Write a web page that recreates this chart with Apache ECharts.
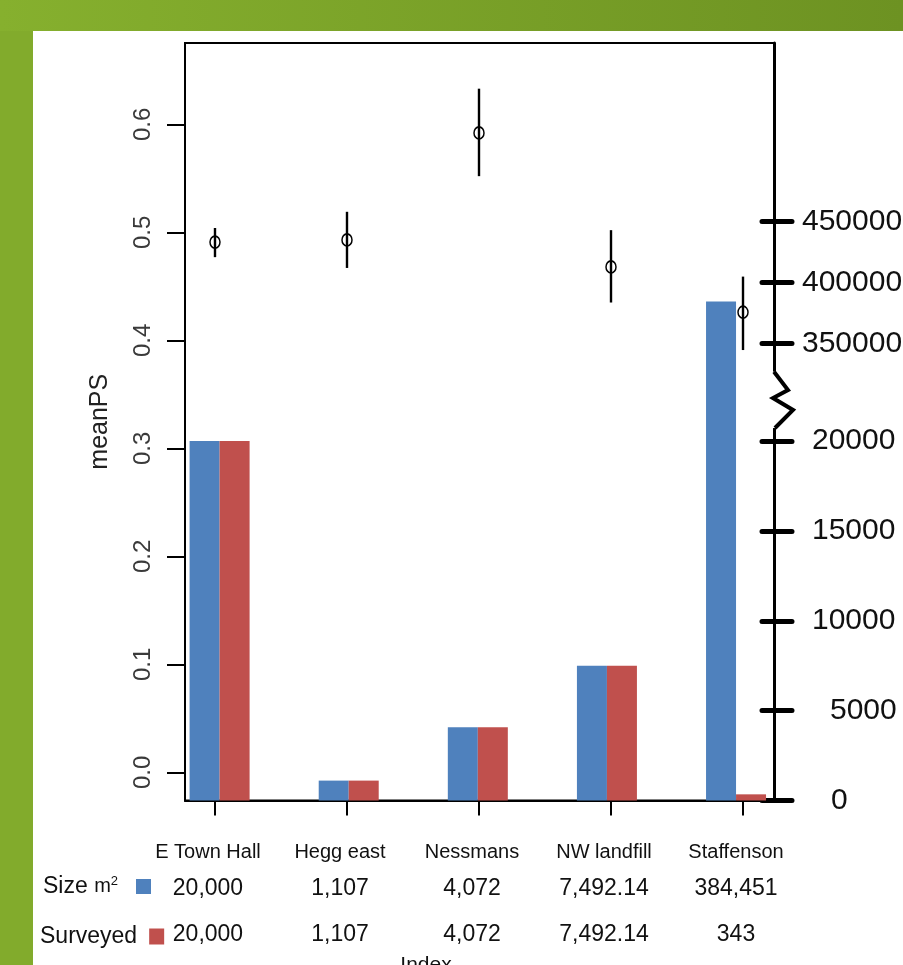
<!DOCTYPE html>
<html>
<head>
<meta charset="utf-8">
<script src="https://cdn.jsdelivr.net/npm/echarts@6/dist/echarts.min.js"></script>
<style>
  html, body { margin: 0; padding: 0; }
  body { width: 903px; height: 965px; position: relative; overflow: hidden; background: #82ab2c; }
  #band { position: absolute; left: 0; top: 0; width: 903px; height: 31px; background: linear-gradient(to right, #86b02e, #6d9222); }
  #panel { position: absolute; left: 33px; top: 31px; width: 870px; height: 934px; background: #ffffff; }
  #chart { position: absolute; left: 0; top: 0; width: 903px; height: 965px; }
</style>
</head>
<body>
<div id="band"></div>
<div id="panel"></div>
<div id="chart"></div>
<script>
// Sites and their measurements
const sites = ['E Town Hall', 'Hegg east', 'Nessmans', 'NW landfill', 'Staffenson'];
const sizeM2 = [20000, 1107, 4072, 7492.14, 384451];
const surveyed = [20000, 1107, 4072, 7492.14, 343];

// Mean PS per site with the ends of its interval
const meanPS = [0.491, 0.493, 0.592, 0.468, 0.426];
const psLow = [0.477, 0.467, 0.552, 0.435, 0.391];
const psHigh = [0.504, 0.519, 0.633, 0.502, 0.459];

// Tick values
const psTicks = [0, 0.1, 0.2, 0.3, 0.4, 0.5, 0.6];
const areaTicks = [0, 5000, 10000, 15000, 20000, 350000, 400000, 450000];

// Area axis is broken: linear up to 20000, then a compressed segment from 350000 on
const BREAK_LO = 20000, BREAK_HI = 350000;
const UPPER_REF = 400000, UPPER_REF_POS = 28818, UPPER_SLOPE = 0.06787;
function toAreaAxis(v) {
  return v <= BREAK_LO ? v : UPPER_REF_POS + (v - UPPER_REF) * UPPER_SLOPE;
}
const areaTickPos = areaTicks.map(toAreaAxis);
function areaLabel(pos) {
  for (let i = 0; i < areaTicks.length; i++) {
    if (Math.abs(areaTickPos[i] - pos) < 1e-6) return areaTicks[i];
  }
  return null;
}
// label style by number of digits (short labels sit further right)
const digitStyle = { 1: 'd1', 4: 'd4', 5: 'd5', 6: 'd6' };

const siteIdx = sites.map((s, i) => i);
// site axis for the points and ticks, and a slightly different one the bar panel was laid out on
const X_MIN = -0.2272, X_MAX = 4.2348;
const BAR_X_MIN = -0.268, BAR_X_MAX = 4.294;
const AREA_MAX = 42142;
const fmt = v => v.toLocaleString('en-US', { maximumFractionDigits: 2 });

const chart = echarts.init(document.getElementById('chart'), null, { renderer: 'canvas' });

const option = {
  animation: false,
  backgroundColor: 'transparent',
  textStyle: { fontFamily: 'Liberation Sans, Arial, sans-serif' },
  grid: {
    left: 185, right: 129, top: 43, bottom: 164.5,
    outerBoundsMode: 'none', containLabel: false,
    show: true, borderColor: '#000', borderWidth: 2, backgroundColor: 'transparent'
  },
  legend: [
    {
      data: ['Size m²'], left: 43, top: 875, padding: 0, align: 'right', icon: 'rect',
      itemWidth: 15, itemHeight: 15, selectedMode: false,
      formatter: () => '{a|Size }{m|m}{s|2}',
      textStyle: {
        color: '#111', fontSize: 23,
        rich: {
          a: { fontSize: 23, color: '#111' },
          m: { fontSize: 20, color: '#111' },
          s: { fontSize: 13, color: '#111', verticalAlign: 'top', padding: [0, 13, 0, 0] }
        }
      }
    },
    {
      data: ['Surveyed'], left: 40, top: 925, padding: 0, align: 'right', icon: 'rect',
      itemWidth: 15, itemHeight: 16, selectedMode: false,
      textStyle: { color: '#111', fontSize: 23, padding: [0, 7, 0, 0] }
    }
  ],
  xAxis: [
    {
      type: 'value', min: X_MIN, max: X_MAX,
      name: 'Index', nameLocation: 'middle', nameGap: 154,
      nameTextStyle: { fontSize: 21, color: '#111', padding: [0, 107, 0, 0] },
      axisLine: { show: true, onZero: false, lineStyle: { color: '#000', width: 2 } },
      axisTick: { show: true, length: 15, lineStyle: { color: '#000', width: 2 }, customValues: siteIdx },
      axisLabel: {
        customValues: siteIdx, margin: 37, padding: [0, 14, 0, 0],
        formatter: v => {
          const i = Math.round(v);
          return '{c|' + sites[i] + '}\n{v|' + fmt(sizeM2[i]) + '}\n{w|' + fmt(surveyed[i]) + '}';
        },
        rich: {
          c: { fontSize: 20, lineHeight: 30, color: '#111' },
          v: { fontSize: 23, lineHeight: 42, color: '#111' },
          w: { fontSize: 23, lineHeight: 50, color: '#111' }
        }
      },
      splitLine: { show: false }
    },
    {
      type: 'value', min: BAR_X_MIN, max: BAR_X_MAX, show: false,
      axisLine: { onZero: false }, splitLine: { show: false }
    }
  ],
  yAxis: [
    {
      type: 'value', position: 'left', min: -0.0261, max: 0.6753,
      name: 'meanPS', nameLocation: 'middle', nameRotate: 90, nameGap: 72,
      nameTextStyle: { fontSize: 25, color: '#222' },
      axisLine: { show: true, onZero: false, lineStyle: { color: '#000', width: 2 } },
      axisTick: { show: true, length: 18, lineStyle: { color: '#000', width: 2 }, customValues: psTicks },
      axisLabel: { customValues: psTicks, rotate: 90, margin: 30, fontSize: 24, color: '#3a3a3a', formatter: v => v.toFixed(1) },
      splitLine: { show: false }
    },
    {
      type: 'value', position: 'right', min: 0, max: AREA_MAX,
      axisLine: { show: true, onZero: false, lineStyle: { color: '#000', width: 3 } },
      axisTick: { show: false }, axisLabel: { show: false }, splitLine: { show: false }
    },
    {
      type: 'value', position: 'right', offset: 18, min: 0, max: AREA_MAX,
      axisLine: { show: false, onZero: false },
      axisTick: { show: true, inside: true, length: 30, customValues: areaTickPos, lineStyle: { color: '#000', width: 5, cap: 'round' } },
      axisLabel: {
        customValues: areaTickPos, align: 'left', margin: 7,
        formatter: v => {
          const t = String(areaLabel(v));
          return '{' + digitStyle[t.length] + '|' + t + '}';
        },
        rich: {
          d1: { fontSize: 30, color: '#111', padding: [0, 0, 0, 32] },
          d4: { fontSize: 30, color: '#111', padding: [0, 0, 0, 31] },
          d5: { fontSize: 30, color: '#111', padding: [0, 0, 0, 13] },
          d6: { fontSize: 30, color: '#111', padding: [0, 0, 0, 3] }
        }
      },
      splitLine: { show: false }
    }
  ],
  series: [
    {
      name: 'Size m²', type: 'bar', xAxisIndex: 1, yAxisIndex: 1,
      barWidth: 30, barGap: '0%',
      itemStyle: { color: '#4f81bd' },
      data: sizeM2.map((v, i) => [i, toAreaAxis(v)])
    },
    {
      name: 'Surveyed', type: 'bar', xAxisIndex: 1, yAxisIndex: 1,
      barWidth: 30, barGap: '0%',
      itemStyle: { color: '#c0504d' },
      data: surveyed.map((v, i) => [i, toAreaAxis(v)])
    },
    {
      name: 'interval', type: 'custom', xAxisIndex: 0, yAxisIndex: 0, z: 5,
      data: siteIdx.map(i => [i, psLow[i], psHigh[i]]),
      encode: { x: 0, y: [1, 2] },
      renderItem: (params, api) => {
        const lo = api.coord([api.value(0), api.value(1)]);
        const hi = api.coord([api.value(0), api.value(2)]);
        return { type: 'line', shape: { x1: lo[0], y1: lo[1], x2: hi[0], y2: hi[1] }, style: { stroke: '#000', lineWidth: 2.4 } };
      }
    },
    {
      name: 'meanPS', type: 'scatter', xAxisIndex: 0, yAxisIndex: 0, z: 6,
      symbol: 'circle', symbolSize: [10, 12],
      itemStyle: { color: 'rgba(0,0,0,0)', borderColor: '#000', borderWidth: 1.6, opacity: 1 },
      data: siteIdx.map(i => [i, meanPS[i]])
    }
  ]
};
chart.setOption(option);

// Zigzag mark where the area axis skips from 20000 to 350000
const axX = chart.convertToPixel({ xAxisIndex: 0 }, X_MAX);
const yHi = chart.convertToPixel({ yAxisIndex: 1 }, toAreaAxis(BREAK_HI));
const yLo = chart.convertToPixel({ yAxisIndex: 1 }, toAreaAxis(BREAK_LO));
const gap = yLo - yHi;
const zigT = [0.289, 0.477, 0.559, 0.682, 0.867];
const zigDx = [0, 14, -1, 19, 1];
const zigPts = zigT.map((t, k) => [axX + zigDx[k], yHi + gap * t]);
chart.setOption({
  graphic: [
    { type: 'rect', z: 100, shape: { x: axX - 3, y: yHi + gap * zigT[0], width: 6, height: gap * (zigT[4] - zigT[0]) }, style: { fill: '#fff' } },
    { type: 'polyline', z: 101, shape: { points: zigPts }, style: { stroke: '#000', lineWidth: 4, fill: null } }
  ]
});
</script>
</body>
</html>
